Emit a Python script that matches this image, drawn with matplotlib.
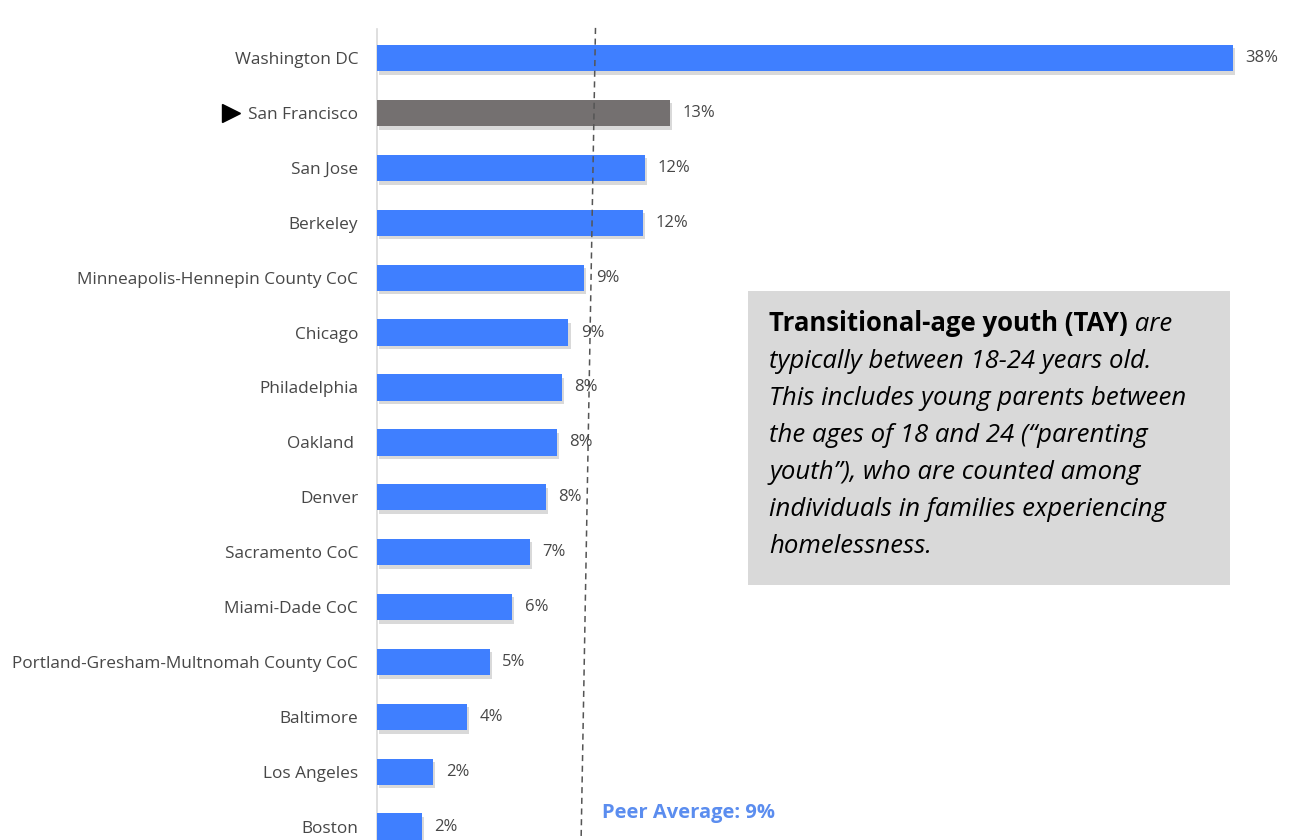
import matplotlib
matplotlib.use("Agg")
import matplotlib.pyplot as plt
import matplotlib.patheffects as pe

plt.rcParams['font.family'] = ['Open Sans', 'DejaVu Sans']

cities = [
    'Washington DC', 'San Francisco', 'San Jose', 'Berkeley',
    'Minneapolis-Hennepin County CoC', 'Chicago', 'Philadelphia', 'Oakland ',
    'Denver', 'Sacramento CoC', 'Miami-Dade CoC',
    'Portland-Gresham-Multnomah County CoC', 'Baltimore', 'Los Angeles', 'Boston',
]
tay_share = [38.0, 13.0, 11.9, 11.8, 9.2, 8.5, 8.2, 8.0, 7.5, 6.8, 6.0, 5.0, 4.0, 2.5, 2.0]
value_labels = ['38%', '13%', '12%', '12%', '9%', '9%', '8%', '8%', '8%', '7%', '6%',
                '5%', '4%', '2%', '2%']
highlight = 'San Francisco'
peer_average = 9

BLUE = '#3F7FFF'
GRAY_BAR = '#747070'
TEXT = '#474747'

fig = plt.figure(figsize=(12.89, 8.40), dpi=100)
W, H = 1289, 840
# axes extends below the figure (chart is cropped at the bottom)
top_px, bot_px = 29, 909
ax = fig.add_axes([377 / W, 1 - bot_px / H, 901 / W, (bot_px - top_px) / H])

ypos = list(range(len(cities)))
colors = [GRAY_BAR if c == highlight else BLUE for c in cities]
bars = ax.barh(ypos, tay_share, height=0.48, color=colors, zorder=3)
for b in bars:
    b.set_path_effects([pe.SimplePatchShadow(offset=(1.5, -2.5), shadow_rgbFace='#000000', alpha=0.15),
                        pe.Normal()])

ax.set_xlim(0, 40)
ax.set_ylim(15.5, -0.53)

ax.set_yticks(ypos)
ax.set_yticklabels(cities, fontsize=12.4, color=TEXT)
ax.tick_params(axis='y', length=0, pad=13.5)
ax.set_xticks([])
for s in ['top', 'right', 'bottom']:
    ax.spines[s].set_visible(False)
ax.spines['left'].set_color('#d9d9d9')
ax.spines['left'].set_linewidth(1.2)

for y, v, lab in zip(ypos, tay_share, value_labels):
    ax.text(v + 0.55, y, lab, va='center', ha='left', fontsize=12, color=TEXT, zorder=5)

# marker pointing at the highlighted city
ax.plot([-6.5], [cities.index(highlight)], marker='>', color='black', ms=13,
        clip_on=False, zorder=5)

# peer average line (slightly skewed in the source image)
ax.plot([peer_average + 0.7, peer_average + 0.05], [-0.55, 14.5], color='#555555',
        lw=1.1, ls=(0, (4, 3)), zorder=4, clip_on=False)
ax.plot([peer_average + 0.05, peer_average], [14.5, 15.5], color='#555555',
        lw=1.1, ls=(0, (4, 3)), zorder=4, clip_on=False)
ax.text(peer_average + 1.0, 13.75, f'Peer Average: {peer_average}%', fontsize=14.5,
        fontweight='bold', color='#5B8DEF', va='center', ha='left')

# definition box
box = plt.Rectangle((748 / W, 1 - 585 / H), (1230 - 748) / W, (585 - 291) / H,
                    transform=fig.transFigure, facecolor='#d9d9d9', edgecolor='none')
fig.patches.append(box)
FS = 18.5
tx = 769 / W
line_px = [331, 368, 405, 442, 479, 516, 553]
bold = fig.text(tx, 1 - line_px[0] / H, 'Transitional-age youth (TAY)', fontsize=FS,
                fontweight='bold', color='black', va='baseline', ha='left')
fig.canvas.draw()
bb = bold.get_window_extent().transformed(fig.transFigure.inverted())
fig.text(bb.x1, 1 - line_px[0] / H, ' are', fontsize=FS, style='italic', color='black',
         va='baseline', ha='left')
rest = ['typically between 18-24 years old.',
        'This includes young parents between',
        'the ages of 18 and 24 (\u201cparenting',
        'youth\u201d), who are counted among',
        'individuals in families experiencing',
        'homelessness.']
for yp, line in zip(line_px[1:], rest):
    fig.text(tx, 1 - yp / H, line, fontsize=FS, style='italic', color='black',
             va='baseline', ha='left')

fig.savefig('out.png', dpi=100)
